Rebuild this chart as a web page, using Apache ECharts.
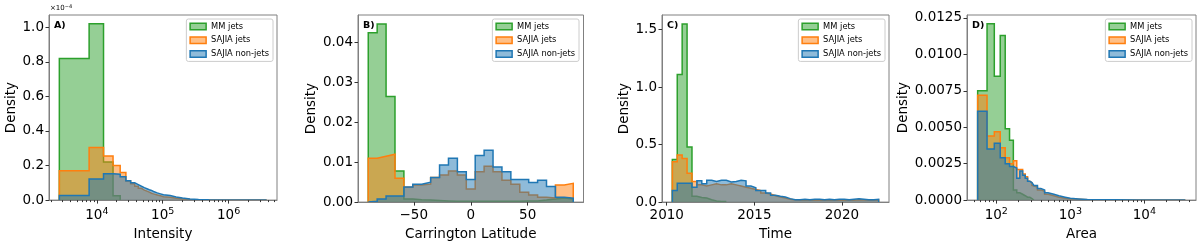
<!DOCTYPE html>
<html><head><meta charset="utf-8">
<script src="https://cdn.jsdelivr.net/npm/echarts@6/dist/echarts.min.js"></script>
<style>html,body{margin:0;padding:0;background:#fff}#c{width:1200px;height:246px}</style>
</head><body><div id="c"></div>
<script>
// ---------------- DATA ----------------
const seriesNames = ['MM jets', 'SAJIA jets', 'SAJIA non-jets'];

// Panel A: Intensity (density in units of 1e-4)
const intensityEdgesMM = [2698, 7640, 12640, 17630, 22630];
const intensityMM = [0.82, 1.02, 0.22, 0.025];
const intensityEdges = [2698, 7640, 12640, 17630, 22630, 27620, 32620, 37620, 42610, 47610, 52600,
  57600, 62600, 67600, 72600, 77600, 82600, 87600, 92600, 97600, 102600,
  130000, 160000, 200000, 260000, 350000, 500000, 1000000, 3780000];
const intensitySajiaJets = [0.17, 0.305, 0.255, 0.2, 0.16, 0.11, 0.095, 0.08, 0.068, 0.058,
  0.052, 0.046, 0.04, 0.036, 0.032, 0.03, 0.027, 0.025, 0.022, 0.02,
  0.016, 0.011, 0.007, 0.004, 0.002, 0.001, 0.0004, 0.0002];
const intensitySajiaNonJets = [0.027, 0.122, 0.152, 0.15, 0.135, 0.112, 0.1, 0.09, 0.08, 0.072,
  0.066, 0.06, 0.056, 0.05, 0.046, 0.042, 0.04, 0.036, 0.034, 0.031,
  0.026, 0.018, 0.012, 0.007, 0.004, 0.002, 0.001, 0.0005];

// Panel B: Carrington Latitude (23 equal bins from -90 to 90)
const latRange = [-90, 90, 23];
const latMM = [0.0425, 0.0447, 0.0265, 0.0078, 0.0008, 0.0006, 0.0005, 0.0004, 0.0003, 0.0002,
  0.0002, 0.0002, 0.0002, 0.0002, 0.0002, 0.0002, 0.0002, 0.0003, 0.0003, 0.0005, 0.0008, 0.001, 0.0008];
const latSajiaJets = [0.011, 0.0115, 0.012, 0.006, 0.0037, 0.0043, 0.0045, 0.0062, 0.0068, 0.0078,
  0.0068, 0.0033, 0.0076, 0.009, 0.0076, 0.0055, 0.0045, 0.0025, 0.0018, 0.0012, 0.001, 0.0043, 0.0047];
const latSajiaNonJets = [0.0002, 0.0008, 0.0015, 0.0015, 0.0038, 0.0045, 0.005, 0.0062, 0.0093, 0.011,
  0.0076, 0.0057, 0.0117, 0.013, 0.0088, 0.0076, 0.0057, 0.0057, 0.0049, 0.0055, 0.0039, 0.0012, 0.001];

// Panel C: Time (42 equal bins from 2010.32 to 2022.10)
const timeRange = [2010.32, 2022.10, 42];
const timeMM = [0.37, 1.11, 1.55, 0.48, 0.05, 0.04, 0.035, 0.02, 0.01, 0.005, 0.005];
const timeSajiaJets = [0.35, 0.41, 0.38, 0.25, 0.18, 0.15, 0.14, 0.15, 0.16, 0.15,
  0.15, 0.16, 0.15, 0.14, 0.13, 0.12, 0.11, 0.1, 0.08, 0.07,
  0.055, 0.045, 0.035, 0.025, 0.018, 0.016, 0.017, 0.016, 0.018, 0.017,
  0.016, 0.018, 0.017, 0.016, 0.018, 0.017, 0.016, 0.02, 0.018, 0.016, 0.017, 0.018];
const timeSajiaNonJets = [0.1, 0.165, 0.165, 0.165, 0.13, 0.185, 0.16, 0.19, 0.18, 0.19,
  0.19, 0.175, 0.18, 0.19, 0.185, 0.14, 0.125, 0.1, 0.1, 0.08,
  0.06, 0.05, 0.045, 0.03, 0.02, 0.02, 0.025, 0.02, 0.025, 0.025,
  0.02, 0.025, 0.02, 0.025, 0.025, 0.02, 0.025, 0.03, 0.025, 0.02, 0.02, 0.025];

// Panel D: Area
const areaEdgesMM = [56, 75, 94, 113, 132, 151, 170, 189, 208, 227, 246, 265, 284, 303, 322];
const areaMM = [0.0075, 0.0121, 0.0085, 0.0113, 0.0049, 0.0041, 0.0007, 0.0005, 0.0004, 0.0003,
  0.0002, 0.0002, 0.0001, 0.0001];
const areaEdges = [56, 75, 94, 113, 132, 151, 170, 189, 208, 227, 246, 265, 284, 303, 322,
  360, 400, 450, 500, 600, 700, 850, 1000, 1300, 1700, 2500, 4000, 8000, 35800];
const areaSajiaJets = [0.0072, 0.0044, 0.0047, 0.0036, 0.0029, 0.0025, 0.0027, 0.0021, 0.0021, 0.0018,
  0.0016, 0.0013, 0.0012, 0.001, 0.0009, 0.0007, 0.0006, 0.0004, 0.0003, 0.0002,
  0.00012, 0.00008, 0.00005, 0.00003, 0.00002, 0.00001, 0.000005, 0.000002];
const areaSajiaNonJets = [0.0061, 0.0035, 0.0039, 0.0029, 0.0025, 0.0023, 0.0022, 0.0015, 0.002, 0.0017,
  0.0015, 0.0013, 0.0012, 0.0011, 0.001, 0.0008, 0.0007, 0.0005, 0.0004, 0.0003,
  0.0002, 0.00012, 0.00008, 0.00004, 0.00003, 0.00002, 0.00001, 0.000005];

// Tick labels
const intensityTicks = [1e4, 1e5, 1e6];
const latTicks = [-50, 0, 50];
const timeTicks = [2010, 2015, 2020];
const areaTicks = [1e2, 1e3, 1e4];
const yTicksA = [0, 0.2, 0.4, 0.6, 0.8, 1.0];
const yTicksB = [0, 0.01, 0.02, 0.03, 0.04];
const yTicksC = [0, 0.5, 1.0, 1.5];
const yTicksD = [0, 0.0025, 0.005, 0.0075, 0.01, 0.0125];

// ---------------- HELPERS ----------------
const FONT = 'DejaVu Sans';
const COLORS = ['#2ca02c', '#ff7f0e', '#1f77b4'];
const FILLS = ['rgba(44,160,44,0.5)', 'rgba(255,127,14,0.5)', 'rgba(31,119,180,0.5)'];
const SPINE = '#808080';

function uniformEdges(r) { const e = []; for (let i = 0; i <= r[2]; i++) e.push(r[0] + (r[1] - r[0]) * i / r[2]); return e; }
function stepPoints(edges, vals) {
  const pts = [[edges[0], 0]];
  for (let i = 0; i < vals.length; i++) { pts.push([edges[i], vals[i]]); pts.push([edges[i + 1], vals[i]]); }
  pts.push([edges[vals.length], 0]);
  return pts;
}
function logMinors(lo, hi) {
  const m = [];
  for (let d = -2; d <= 8; d++) for (let k = 2; k <= 9; k++) { const v = k * Math.pow(10, d); if (v >= lo && v <= hi) m.push(v); }
  return m;
}
const latEdges = uniformEdges(latRange);
const timeEdges = uniformEdges(timeRange);

const panels = [
  { label: 'A)', left: 49, width: 228, xName: 'Intensity', xType: 'log', xMin: 1880, xMax: 5.43e6, xTicks: intensityTicks,
    yMax: 1.071, yTicks: yTicksA, yDec: 1, yNameGap: 28, legendRight: 927,
    data: [[intensityEdgesMM, intensityMM], [intensityEdges, intensitySajiaJets], [intensityEdges, intensitySajiaNonJets]] },
  { label: 'B)', left: 358, width: 225.5, xName: 'Carrington Latitude', xType: 'value', xMin: -99, xMax: 99, xTicks: latTicks,
    yMax: 0.04694, yTicks: yTicksB, yDec: 2, yNameGap: 40, legendRight: 621,
    data: [[latEdges, latMM], [latEdges, latSajiaJets], [latEdges, latSajiaNonJets]] },
  { label: 'C)', left: 662, width: 227, xName: 'Time', xType: 'value', xMin: 2009.73, xMax: 2022.69, xTicks: timeTicks,
    yMax: 1.6275, yTicks: yTicksC, yDec: 1, yNameGap: 29, legendRight: 315,
    data: [[timeEdges, timeMM], [timeEdges, timeSajiaJets], [timeEdges, timeSajiaNonJets]] },
  { label: 'D)', left: 967, width: 229, xName: 'Area', xType: 'log', xMin: 40.2, xMax: 49900, xTicks: areaTicks,
    yMax: 0.012705, yTicks: yTicksD, yDec: 4, yNameGap: 55, legendRight: 8,
    data: [[areaEdgesMM, areaMM], [areaEdges, areaSajiaJets], [areaEdges, areaSajiaNonJets]] }
];

const TOP = 15, HEIGHT = 189;
const option = { animation: false, grid: [], xAxis: [], yAxis: [], series: [], legend: [], title: [], graphic: [] };

panels.forEach((p, i) => {
  option.grid.push({ left: p.left, top: TOP, width: p.width, height: HEIGHT, show: true, borderColor: SPINE, borderWidth: 1, backgroundColor: 'transparent', containLabel: false });
  const isLog = p.xType === 'log';
  option.xAxis.push({
    type: p.xType, logBase: 10, gridIndex: i, position: 'bottom', min: p.xMin, max: p.xMax, z: 10,
    name: p.xName, nameLocation: 'middle', nameGap: 20,
    nameTextStyle: { fontFamily: FONT, fontSize: 13.5, color: '#000', verticalAlign: 'top' },
    axisLine: { show: true, onZero: false, lineStyle: { color: SPINE, width: 1 } },
    axisTick: { show: true, length: 3.5, customValues: p.xTicks, lineStyle: { color: '#333', width: 1 } },
    splitLine: { show: false },
    axisLabel: {
      customValues: p.xTicks, margin: 6, color: '#000', fontFamily: FONT, fontSize: 13.5,
      formatter: isLog ? (v => '{b|10}{s|' + Math.round(Math.log10(v)) + '}') : (v => v < 0 ? '\u2212' + Math.abs(v) : String(v)),
      rich: {
        b: { fontFamily: FONT, fontSize: 13.5, color: '#000', verticalAlign: 'bottom', lineHeight: 16 },
        s: { fontFamily: FONT, fontSize: 9.5, color: '#000', verticalAlign: 'bottom', lineHeight: 11, padding: [0, 0, 6, 0] }
      }
    }
  });
  option.xAxis.push({
    type: p.xType, logBase: 10, gridIndex: i, position: 'bottom', min: p.xMin, max: p.xMax, z: 10,
    axisLine: { show: false, onZero: false }, axisLabel: { show: false }, splitLine: { show: false },
    axisTick: { show: isLog, length: 2, customValues: isLog ? logMinors(p.xMin, p.xMax) : [], lineStyle: { color: '#333', width: 1 } }
  });
  option.yAxis.push({
    type: 'value', gridIndex: i, position: 'left', min: 0, max: p.yMax, z: 10,
    name: 'Density', nameLocation: 'middle', nameGap: p.yNameGap,
    nameTextStyle: { fontFamily: FONT, fontSize: 13.5, color: '#000' },
    axisLine: { show: true, onZero: false, lineStyle: { color: SPINE, width: 1 } },
    axisTick: { show: true, length: 3.5, customValues: p.yTicks, lineStyle: { color: '#333', width: 1 } },
    splitLine: { show: false },
    axisLabel: { customValues: p.yTicks, margin: 5, color: '#000', fontFamily: FONT, fontSize: 13.5, formatter: v => Number(v).toFixed(p.yDec) }
  });
  p.data.forEach((d, k) => {
    option.series.push({
      type: 'line', name: seriesNames[k], xAxisIndex: 2 * i, yAxisIndex: i,
      data: stepPoints(d[0], d[1]), symbol: 'none', showSymbol: false, clip: true, z: 2 + k,
      lineStyle: { color: COLORS[k], width: 1.5, join: 'miter' },
      itemStyle: { color: COLORS[k] },
      areaStyle: { color: FILLS[k], opacity: 1 },
      emphasis: { disabled: true }, silent: true
    });
  });
  option.legend.push({
    orient: 'vertical', right: p.legendRight, top: 19, icon: 'rect', selectedMode: false,
    itemWidth: 16, itemHeight: 6.5, itemGap: 3.7, padding: [2.5, 4, 2.5, 3],
    backgroundColor: 'rgba(255,255,255,0.8)', borderColor: '#cccccc', borderWidth: 1, borderRadius: 2,
    textStyle: { fontFamily: FONT, fontSize: 8.3, color: '#000', lineHeight: 10 },
    data: seriesNames.map((n, k) => ({ name: n, itemStyle: { color: FILLS[k], borderColor: COLORS[k], borderWidth: 1.5 } }))
  });
  option.title.push({ text: p.label, left: p.left + 5, top: 20.5, padding: 0,
    textStyle: { fontFamily: FONT, fontSize: 9.5, fontWeight: 'bold', color: '#000' } });
});

option.graphic.push({
  type: 'text', left: 50, top: 4, z: 20,
  style: { text: '{a|\u00d710}{s|\u22124}', rich: {
    a: { fontFamily: FONT, fontSize: 7, fill: '#000', verticalAlign: 'bottom', lineHeight: 9 },
    s: { fontFamily: FONT, fontSize: 5, fill: '#000', verticalAlign: 'bottom', lineHeight: 7, padding: [0, 0, 3, 0] } } }
});

const chart = echarts.init(document.getElementById('c'), null, { renderer: 'canvas' });
chart.setOption(option);
</script>
</body></html>
